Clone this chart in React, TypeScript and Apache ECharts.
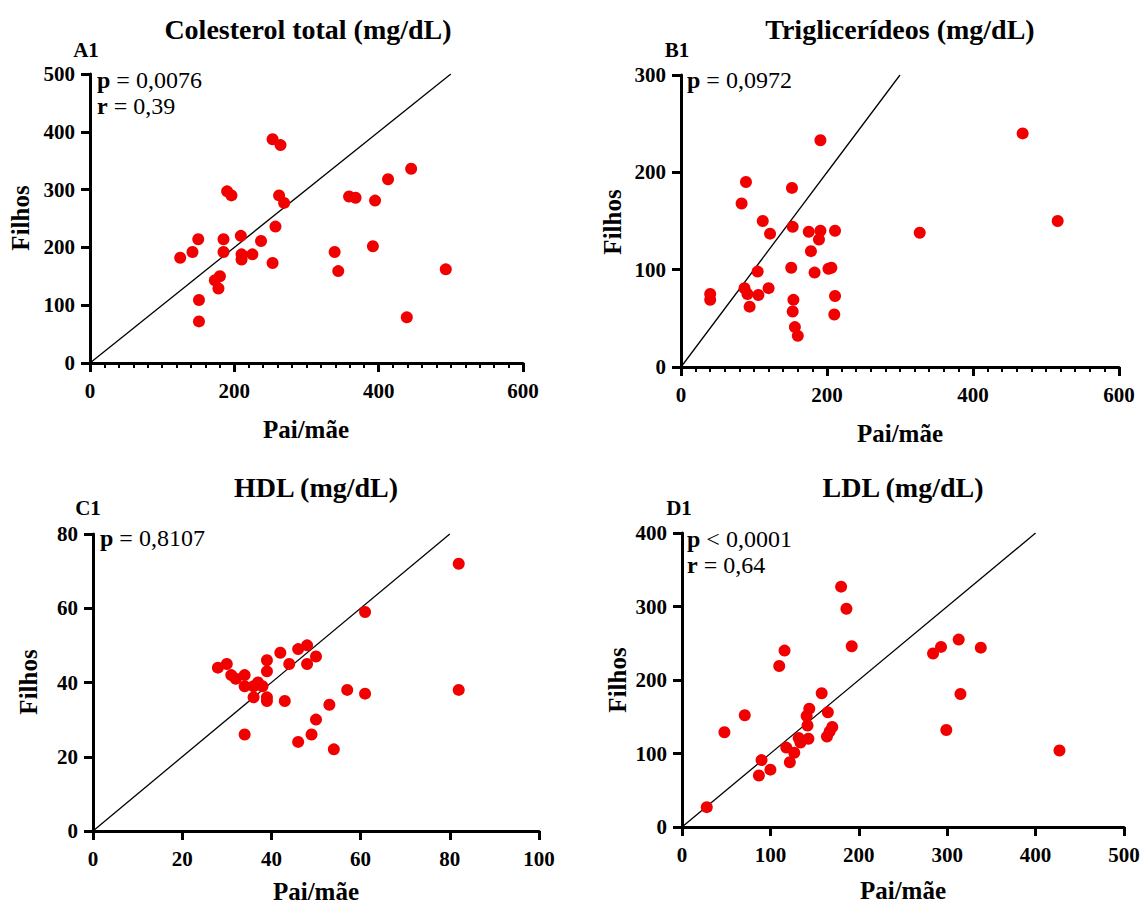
import React, { useEffect, useRef } from "react";
import * as echarts from "echarts";

// Panel A: Colesterol total
const aPai = [125, 142, 150, 151, 151, 173, 180, 178, 185, 185, 190, 196, 209, 210, 210, 225, 237, 253, 257, 253, 264, 262, 269, 339, 344, 359, 368, 395, 392, 413, 445, 439, 493];
const aFilhos = [182, 192, 214, 109, 72, 143, 150, 129, 214, 192, 297, 290, 220, 188, 179, 188, 211, 173, 236, 387, 377, 290, 277, 192, 159, 288, 286, 281, 202, 318, 336, 79, 162];
// Panel B: Triglicerídeos
const bPai = [40, 40, 83, 89, 87, 91, 94, 105, 106, 112, 120, 122, 152, 153, 151, 154, 153, 156, 160, 175, 191, 189, 191, 178, 183, 202, 206, 211, 211, 210, 327, 468, 516];
const bFilhos = [75, 69, 168, 190, 81, 75, 62, 98, 74, 150, 81, 137, 184, 144, 102, 69, 57, 41, 32, 139, 140, 131, 233, 119, 97, 101, 102, 140, 73, 54, 138, 240, 150];
// Panel C: HDL
const cPai = [28, 30, 31, 32, 34, 34, 34, 36, 36, 37, 38, 39, 39, 39, 39, 42, 43, 44, 46, 48, 48, 50, 50, 46, 49, 53, 54, 57, 61, 61, 82, 82];
const cFilhos = [44, 45, 42, 41, 42, 39, 26, 36, 39, 40, 39, 46, 43, 36, 35, 48, 35, 45, 49, 50, 45, 47, 30, 24, 26, 34, 22, 38, 59, 37, 72, 38];
// Panel D: LDL
const dPai = [28, 48, 71, 87, 90, 100, 110, 116, 118, 122, 127, 132, 134, 143, 142, 141, 144, 158, 165, 164, 167, 170, 180, 186, 192, 284, 293, 299, 313, 315, 338, 427];
const dFilhos = [27, 129, 152, 70, 91, 78, 219, 240, 108, 88, 101, 121, 115, 120, 138, 151, 161, 182, 156, 123, 130, 136, 327, 297, 246, 236, 245, 132, 255, 181, 244, 104];

const titles = ["Colesterol total (mg/dL)", "Triglicerídeos (mg/dL)", "HDL (mg/dL)", "LDL (mg/dL)"];
const panelLabels = ["A1", "B1", "C1", "D1"];
const xName = "Pai/mãe";
const yName = "Filhos";
const xMax = [600, 600, 100, 500];
const xInterval = [200, 200, 20, 100];
const yMax = [500, 300, 80, 400];
const yInterval = [100, 100, 20, 100];
const lineEnd = [500, 300, 80, 400];
const minorX = [true, true, false, false];
const annotations = [
  ["{b|p} = 0,0076", "{b|r} = 0,39"],
  ["{b|p} = 0,0972"],
  ["{b|p} = 0,8107"],
  ["{b|p} < 0,0001", "{b|r} = 0,64"],
];

const FONT = "'Liberation Serif', 'Times New Roman', serif";
const RED = "#f20000";

const grids = [
  { left: 90, top: 74, width: 433, height: 289 },
  { left: 681, top: 75, width: 438, height: 292 },
  { left: 93, top: 534, width: 446, height: 297 },
  { left: 682, top: 533, width: 442, height: 294 },
];
const titlePos = [[308, 29], [900, 29], [316, 487], [903, 487]];
const panelPos = [[86, 50], [677, 50], [88, 508], [679, 508]];
const xNamePos = [[306, 429], [900, 433], [316, 891], [903, 890]];
const yNamePos = [[20, 218], [612, 222], [28, 682], [617, 680]];
const annPos = [[97, 80], [687, 80], [100, 538], [687, 539]];

export default function App() {
  const ref = useRef<HTMLDivElement>(null);
  useEffect(() => {
    if (!ref.current) return;
    const chart = echarts.init(ref.current, undefined, { renderer: "svg" });
    const xs = [aPai, bPai, cPai, dPai];
    const ys = [aFilhos, bFilhos, cFilhos, dFilhos];

    const xAxis = grids.map((_, i) => ({
      type: "value",
      gridIndex: i,
      min: 0,
      max: xMax[i],
      interval: xInterval[i],
      splitLine: { show: false },
      axisLine: { show: true, lineStyle: { color: "#000", width: 3 } },
      axisTick: { show: true, length: 9, lineStyle: { color: "#000", width: 3 } },
      minorTick: { show: minorX[i], splitNumber: 10, length: 5, lineStyle: { color: "#000", width: 2 } },
      minorSplitLine: { show: false },
      axisLabel: { color: "#000", fontFamily: FONT, fontWeight: "bold", fontSize: 21, margin: 17 },
    }));
    const yAxis = grids.map((_, i) => ({
      type: "value",
      gridIndex: i,
      min: 0,
      max: yMax[i],
      interval: yInterval[i],
      splitLine: { show: false },
      axisLine: { show: true, lineStyle: { color: "#000", width: 3 } },
      axisTick: { show: true, length: 9, lineStyle: { color: "#000", width: 3 } },
      axisLabel: { color: "#000", fontFamily: FONT, fontWeight: "bold", fontSize: 21, margin: 15 },
    }));

    const series: any[] = [];
    grids.forEach((_, i) => {
      series.push({
        type: "line",
        xAxisIndex: i,
        yAxisIndex: i,
        data: [[0, 0], [lineEnd[i], lineEnd[i]]],
        symbol: "none",
        silent: true,
        lineStyle: { color: "#000", width: 1.3 },
        z: 2,
      });
      series.push({
        type: "scatter",
        xAxisIndex: i,
        yAxisIndex: i,
        data: xs[i].map((v, k) => [v, ys[i][k]]),
        symbol: "circle",
        symbolSize: 12,
        itemStyle: { color: RED, opacity: 1 },
        z: 3,
      });
    });

    const graphic: any[] = [];
    grids.forEach((_, i) => {
      graphic.push({
        type: "text",
        x: titlePos[i][0],
        y: titlePos[i][1],
        style: { text: titles[i], fill: "#000", fontFamily: FONT, fontWeight: "bold", fontSize: 28, textAlign: "center", textVerticalAlign: "middle" },
      });
      graphic.push({
        type: "text",
        x: panelPos[i][0],
        y: panelPos[i][1],
        style: { text: panelLabels[i], fill: "#000", fontFamily: FONT, fontWeight: "bold", fontSize: 21, textAlign: "center", textVerticalAlign: "middle" },
      });
      graphic.push({
        type: "text",
        x: xNamePos[i][0],
        y: xNamePos[i][1],
        style: { text: xName, fill: "#000", fontFamily: FONT, fontWeight: "bold", fontSize: 25, textAlign: "center", textVerticalAlign: "middle" },
      });
      graphic.push({
        type: "text",
        x: yNamePos[i][0],
        y: yNamePos[i][1],
        rotation: Math.PI / 2,
        style: { text: yName, fill: "#000", fontFamily: FONT, fontWeight: "bold", fontSize: 25, textAlign: "center", textVerticalAlign: "middle" },
      });
      annotations[i].forEach((t, k) => {
        graphic.push({
          type: "text",
          x: annPos[i][0],
          y: annPos[i][1] + k * 26,
          style: {
            text: t,
            fill: "#000",
            fontFamily: FONT,
            fontSize: 24,
            textAlign: "left",
            textVerticalAlign: "middle",
            rich: { b: { fontFamily: FONT, fontWeight: "bold", fontSize: 24, fill: "#000" } },
          },
        });
      });
    });

    chart.setOption({
      animation: false,
      backgroundColor: "#fff",
      grid: grids.map((g) => ({ ...g, containLabel: false })),
      xAxis,
      yAxis,
      series,
      graphic,
    });
    return () => chart.dispose();
  }, []);
  return <div ref={ref} style={{ position: "absolute", left: 0, top: 0, width: 1145, height: 905 }} />;
}
